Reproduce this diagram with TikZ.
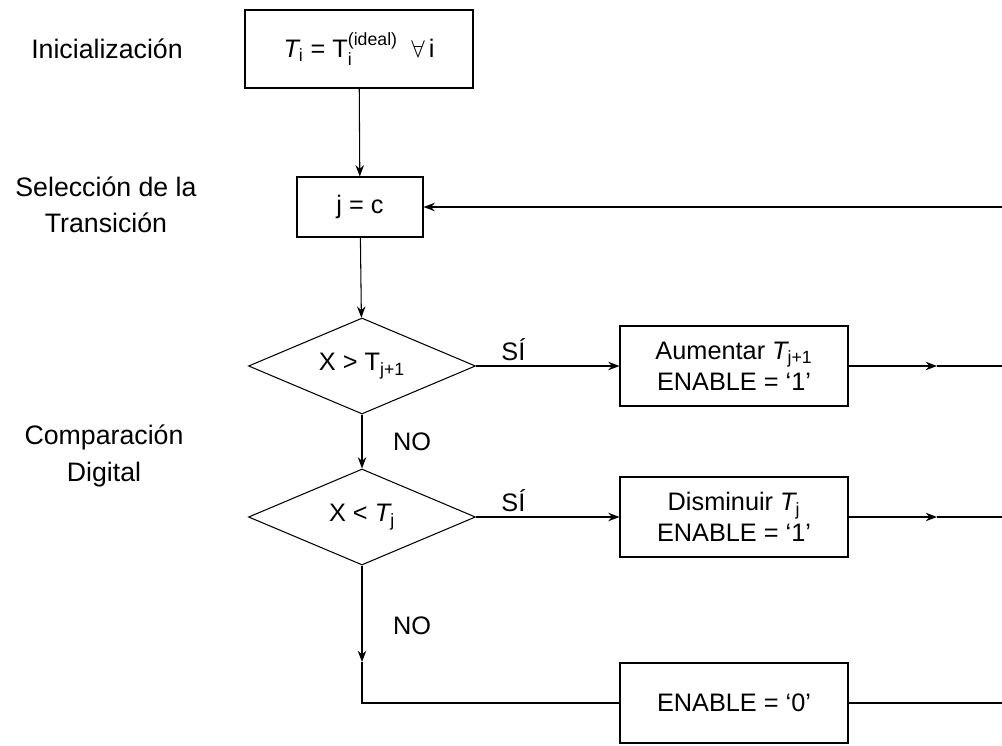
\documentclass[tikz,border=0pt]{standalone}
\usepackage{amsmath}
\usepackage{fontspec}
\setmainfont{Liberation Sans}
\usetikzlibrary{shapes.geometric, arrows.meta, positioning}

\begin{document}
\begin{tikzpicture}[x=0.25mm, y=-0.25mm, >={Stealth[length=8pt, width=6pt]}, line width=0.75pt,
    caja/.style={draw, rectangle, minimum width=57mm, minimum height=20mm, align=center, font=\fontsize{18}{22}\selectfont},
    rombo/.style={draw, diamond, aspect=2, minimum width=56.75mm, minimum height=24mm, inner sep=0pt, font=\fontsize{18}{22}\selectfont},
    etiqueta/.style={align=center, font=\fontsize{19}{26}\selectfont},
    rotulo/.style={font=\fontsize{18}{22}\selectfont}]
    \useasboundingbox (0,0) rectangle (1002,745);

    % etapas
    \node[etiqueta] (tIni) at (107,49) {Inicialización};
    \node[etiqueta] (tSel) at (106,205) {Selección de la\\Transición};
    \node[etiqueta] (tComp) at (104,456) {Comparación\\Digital};

    % bloques
    \node[caja, minimum height=19.5mm] (ini) at (359,49) {$\textit{T}_{\text{i}}\text{ = }\text{T}_{\text{i}}^{\text{(ideal)}}\;\; \forall\, \text{i}$};
    \node[caja, minimum width=31.5mm, minimum height=15mm] (sel) at (360,207) {j = c};
    \node[rombo] (comp1) at (362,366) {X > T$_{\text{j+1}}$};
    \node[rombo] (comp2) at (362,517) {X < $\textit{T}_{\text{j}}$};
    \node[caja] (aum) at (734,366) {Aumentar $\textit{T}_{\text{j+1}}$\\ENABLE = ‘1’};
    \node[caja] (dis) at (734,517) {Disminuir $\textit{T}_{\text{j}}$\\ENABLE = ‘1’};
    \node[caja] (cero) at (734,703) {ENABLE = ‘0’};

    % puntos auxiliares
    \coordinate (bordeSel) at (1002,207);
    \coordinate (flechaAum) at (937,366);
    \coordinate (bordeAum) at (1002,366);
    \coordinate (flechaDis) at (937,517);
    \coordinate (bordeDis) at (1002,517);
    \coordinate (flechaCero) at (362,662);
    \coordinate (esqCero) at (362,703);
    \coordinate (bordeCero) at (1002,703);

    % conexiones
    \draw[->] (ini) -- (sel);
    \draw[->] (bordeSel) -- (sel);
    \draw[->] (sel) -- (comp1);
    \draw[->] (comp1.east) -- node[rotulo, above, pos=0.26] {SÍ} (aum);
    \draw[->] (comp1) -- node[rotulo, right=6.5mm] {NO} (comp2);
    \draw[->] (comp2.east) -- node[rotulo, above, pos=0.26] {SÍ} (dis);
    \draw[->] (comp2) -- node[rotulo, right=6.5mm, pos=0.62] {NO} (flechaCero);
    \draw (flechaCero) -- (esqCero) -- (cero);
    \draw[->] (aum) -- (flechaAum);
    \draw (flechaAum) -- (bordeAum);
    \draw[->] (dis) -- (flechaDis);
    \draw (flechaDis) -- (bordeDis);
    \draw (cero) -- (bordeCero);
\end{tikzpicture}
\end{document}
